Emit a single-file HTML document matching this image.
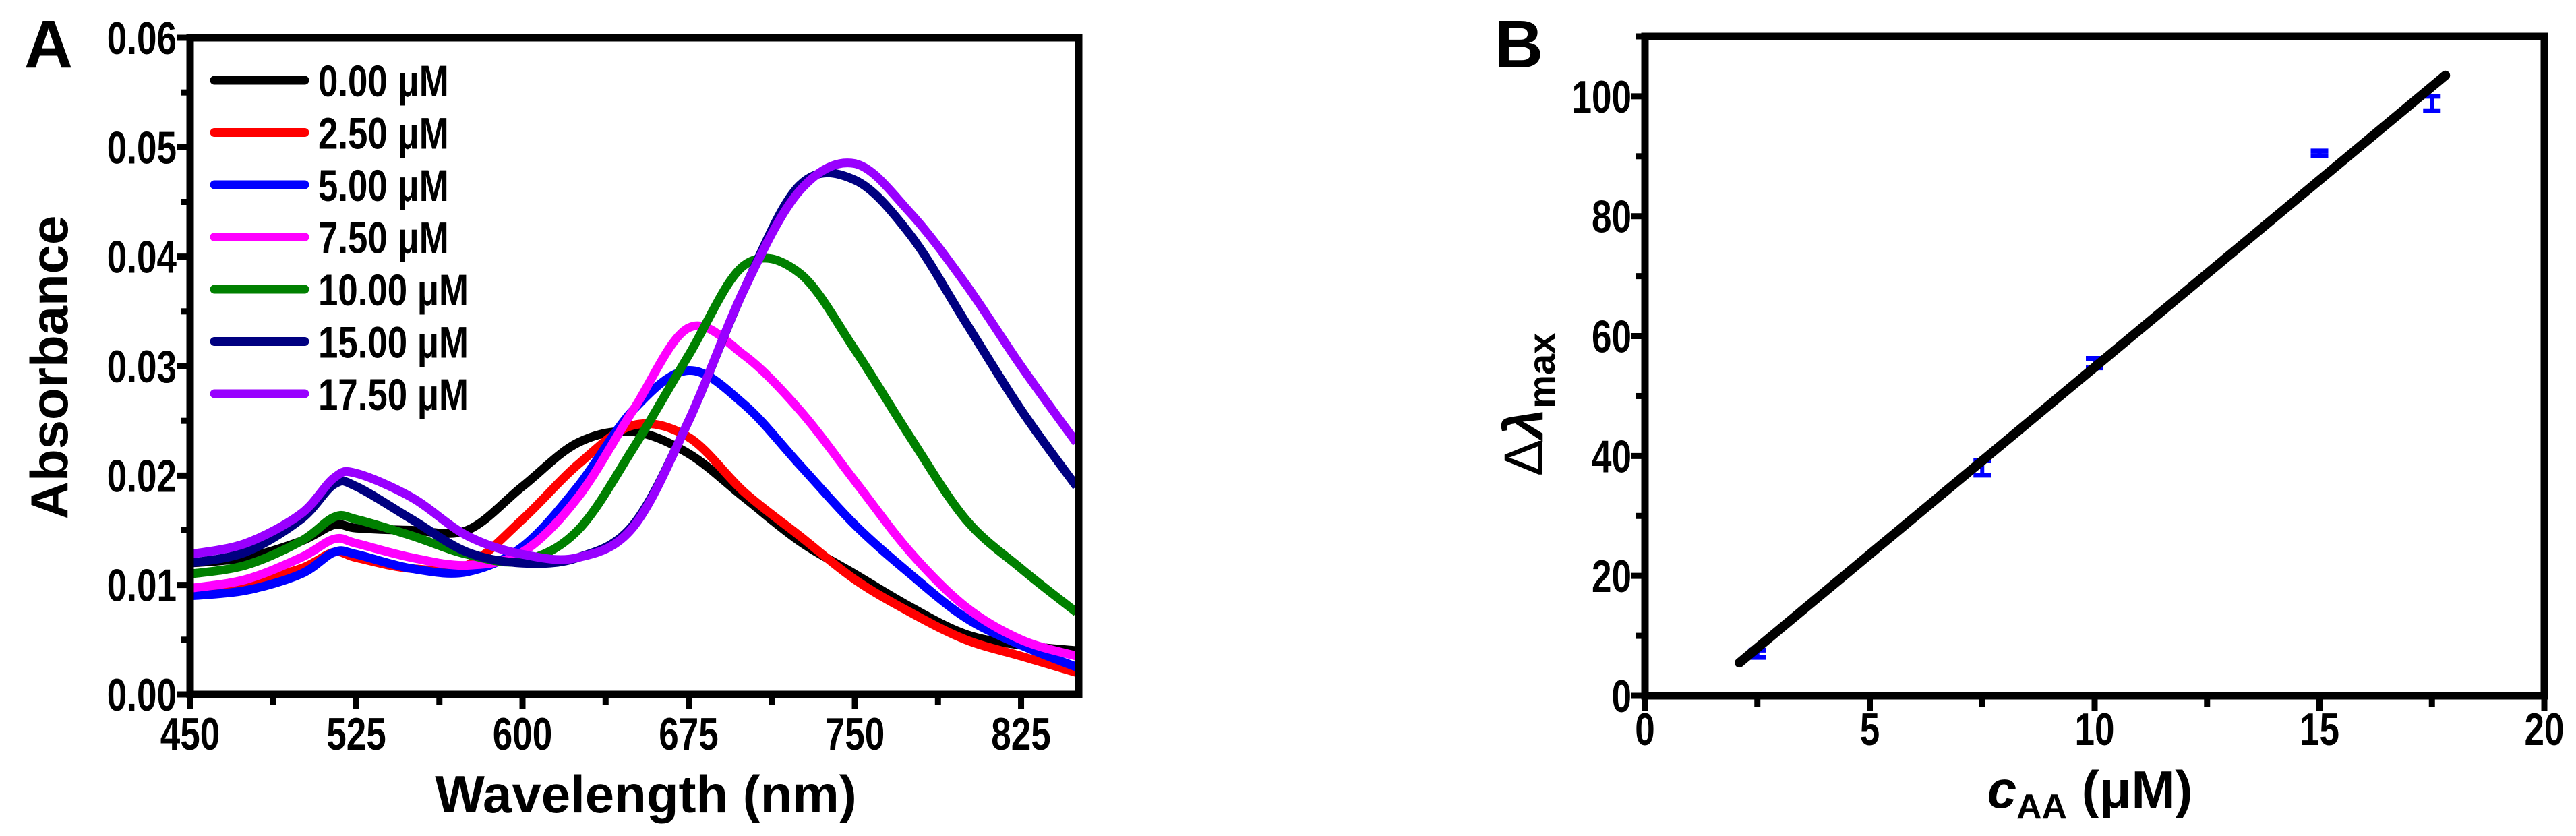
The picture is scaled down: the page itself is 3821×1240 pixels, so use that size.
<!DOCTYPE html>
<html><head><meta charset="utf-8"><style>
body{margin:0;background:#fff;}
svg{display:block;font-family:"Liberation Sans",Arial,sans-serif;font-weight:bold;}
</style></head><body>
<svg id="fig" width="3821" height="1240" viewBox="0 0 3821 1240" xmlns="http://www.w3.org/2000/svg"></svg>
<script>
const NS="http://www.w3.org/2000/svg";
const wl=[450,475,500,515,525,550,575,600,625,650,675,700,725,750,775,800,825,850];
const labels=["0.00 μM","2.50 μM","5.00 μM","7.50 μM","10.00 μM","15.00 μM","17.50 μM"];
const colors=["#000000","#ff0000","#0000ff","#ff00ff","#008000","#000080","#9900ff"];
const s0=[0.012,0.0125,0.014,0.0155,0.0152,0.015,0.015,0.019,0.023,0.024,0.022,0.018,0.014,0.011,0.008,0.0055,0.0045,0.004];
const s1=[0.0095,0.0102,0.0115,0.013,0.0125,0.0115,0.0118,0.016,0.021,0.0246,0.0235,0.0185,0.0145,0.0105,0.0075,0.005,0.0035,0.002];
const s2=[0.009,0.0095,0.011,0.013,0.0128,0.0115,0.0112,0.0135,0.019,0.026,0.0296,0.0265,0.021,0.0155,0.011,0.007,0.0045,0.0025];
const s3=[0.0097,0.0105,0.0125,0.0142,0.0138,0.0125,0.0118,0.013,0.018,0.026,0.0335,0.031,0.026,0.0195,0.013,0.008,0.005,0.0035];
const s4=[0.011,0.0118,0.014,0.0162,0.016,0.0145,0.0128,0.0122,0.015,0.0225,0.031,0.0392,0.0385,0.0315,0.0235,0.016,0.0115,0.0075];
const s5=[0.012,0.013,0.016,0.0192,0.019,0.016,0.013,0.012,0.0125,0.0155,0.025,0.037,0.0465,0.047,0.042,0.034,0.026,0.019];
const s6=[0.0128,0.0138,0.0165,0.0198,0.0202,0.018,0.0145,0.0128,0.0125,0.0153,0.025,0.037,0.046,0.0485,0.044,0.0375,0.030,0.023];
const series=[s0,s1,s2,s3,s4,s5,s6];
const conc=[2.5,7.5,10,15,17.5];
const shift=[7,38,55.5,90.5,98.8];
const errB=[0.6,1.2,0.8,0.4,1.2];
const fitX=[2.1,17.8];
const fitY=[5.5,103.5];
const ticksA_x=[450,525,600,675,750,825];
const ticksA_y=[0,0.01,0.02,0.03,0.04,0.05,0.06];
const ticksB_x=[0,5,10,15,20];
const ticksB_y=[0,20,40,60,80,100];

const svg=document.getElementById('fig');
function el(tag,attrs,parent){const e=document.createElementNS(NS,tag);for(const k in attrs)e.setAttribute(k,attrs[k]);(parent||svg).appendChild(e);return e;}
function txt(str,x,y,size,anchor,parent,extra){const t=el('text',Object.assign({x:x,y:y,'font-size':size,'text-anchor':anchor||'middle'},extra||{}),parent);t.textContent=str;return t;}
function sx(x,k){return `translate(${x},0) scale(${k},1) translate(${-x},0)`;}

// Panel A
const A={l:282,r:1600,t:56,b:1030,x0:450,x1:851,y0:0,y1:0.06};
const ax=v=>A.l+(v-A.x0)/(A.x1-A.x0)*(A.r-A.l);
const ay=v=>A.b-(v-A.y0)/(A.y1-A.y0)*(A.b-A.t);
const gA=el('g',{});


function smooth(pts){let d=`M${pts[0][0]},${pts[0][1]}`;for(let i=0;i<pts.length-1;i++){const p0=pts[Math.max(0,i-1)],p1=pts[i],p2=pts[i+1],p3=pts[Math.min(pts.length-1,i+2)];const c1=[p1[0]+(p2[0]-p0[0])/6,p1[1]+(p2[1]-p0[1])/6],c2=[p2[0]-(p3[0]-p1[0])/6,p2[1]-(p3[1]-p1[1])/6];d+=` C${c1[0]},${c1[1]} ${c2[0]},${c2[1]} ${p2[0]},${p2[1]}`;}return d;}
series.forEach((s,i)=>{const p=el('path',{d:smooth(s.map((v,j)=>[ax(wl[j]),ay(v)])),fill:'none',stroke:colors[i],'stroke-width':13,'stroke-linejoin':'round'},gA);

});
const frA=el('rect',{x:A.l,y:A.t,width:A.r-A.l,height:A.b-A.t,fill:'none',stroke:'#000','stroke-width':11},gA);


for(let v=450;v<=851;v+=37.5){const major=ticksA_x.includes(v);el('line',{x1:ax(v),x2:ax(v),y1:A.b,y2:A.b+(major?22:16),stroke:'#000','stroke-width':9},gA);}
ticksA_x.forEach(v=>{const t=txt(String(v),ax(v),1112,68,'middle',gA,{transform:sx(ax(v),0.78)});});
for(let k=0;k<=12;k++){const v=k*0.005;el('line',{x1:A.l,x2:A.l-(k%2?14:20),y1:ay(v),y2:ay(v),stroke:'#000','stroke-width':9},gA);}
ticksA_y.forEach(v=>{const t=txt(v.toFixed(2),A.l-20,ay(v)+24,68,'end',gA,{transform:sx(A.l-20,0.78)});});
labels.forEach((lb,i)=>{const y=119+i*77.5;const g=el('g',{},gA);


el('line',{x1:318,x2:452,y1:y,y2:y,stroke:colors[i],'stroke-width':13,'stroke-linecap':'round'},g);
txt(lb,472,y+24,66,'start',g,{transform:sx(472,0.8)});});
let t=txt('A',72,100,100,'middle',gA);
t=txt('Absorbance',0,0,78,'middle',gA,{transform:'translate(100,545) rotate(-90)'});
t=txt('Wavelength (nm)',958,1205,78,'middle',gA);

// Panel B
const B={l:2440,r:3774,t:54,b:1032,x0:0,x1:20,y0:0,y1:110};
const bx=v=>B.l+(v-B.x0)/(B.x1-B.x0)*(B.r-B.l);
const by=v=>B.b-(v-B.y0)/(B.y1-B.y0)*(B.b-B.t);
const gB=el('g',{});


const frB=el('rect',{x:B.l,y:B.t,width:B.r-B.l,height:B.b-B.t,fill:'none',stroke:'#000','stroke-width':11},gB);


for(let v=0;v<=20;v+=2.5){el('line',{x1:bx(v),x2:bx(v),y1:B.b,y2:B.b+(v%5?16:22),stroke:'#000','stroke-width':9},gB);}
for(let v=0;v<=110;v+=10){el('line',{x1:B.l,x2:B.l-(v%20?14:20),y1:by(v),y2:by(v),stroke:'#000','stroke-width':9},gB);}
ticksB_x.forEach(v=>{const t=txt(String(v),bx(v),1105,68,'middle',gB,{transform:sx(bx(v),0.78)});});
ticksB_y.forEach(v=>{const t=txt(String(v),B.l-20,by(v)+24,68,'end',gB,{transform:sx(B.l-20,0.78)});});
conc.forEach((c,i)=>{const g=el('g',{},gB);


const x=bx(c);el('line',{x1:x,x2:x,y1:by(shift[i]-errB[i]),y2:by(shift[i]+errB[i]),stroke:'#0000ff','stroke-width':6},g);
el('line',{x1:x-13,x2:x+13,y1:by(shift[i]-errB[i]),y2:by(shift[i]-errB[i]),stroke:'#0000ff','stroke-width':7},g);
el('line',{x1:x-13,x2:x+13,y1:by(shift[i]+errB[i]),y2:by(shift[i]+errB[i]),stroke:'#0000ff','stroke-width':7},g);});
const fl=el('line',{x1:bx(fitX[0]),y1:by(fitY[0]),x2:bx(fitX[1]),y2:by(fitY[1]),stroke:'#000','stroke-width':14,'stroke-linecap':'round'},gB);


t=txt('B',2253,100,100,'middle',gB);
const yt=el('text',{transform:'translate(2288,600) rotate(-90)','text-anchor':'middle','font-size':82},gB);


yt.innerHTML='<tspan font-weight="normal">Δ</tspan><tspan font-style="italic">λ</tspan><tspan font-size="56" dy="18">max</tspan>';
const xt=el('text',{x:3100,y:1198,'text-anchor':'middle','font-size':78},gB);


xt.innerHTML='<tspan font-style="italic">c</tspan><tspan font-size="52" dy="16">AA</tspan><tspan dy="-16"> (μM)</tspan>';
</script>
</body></html>
